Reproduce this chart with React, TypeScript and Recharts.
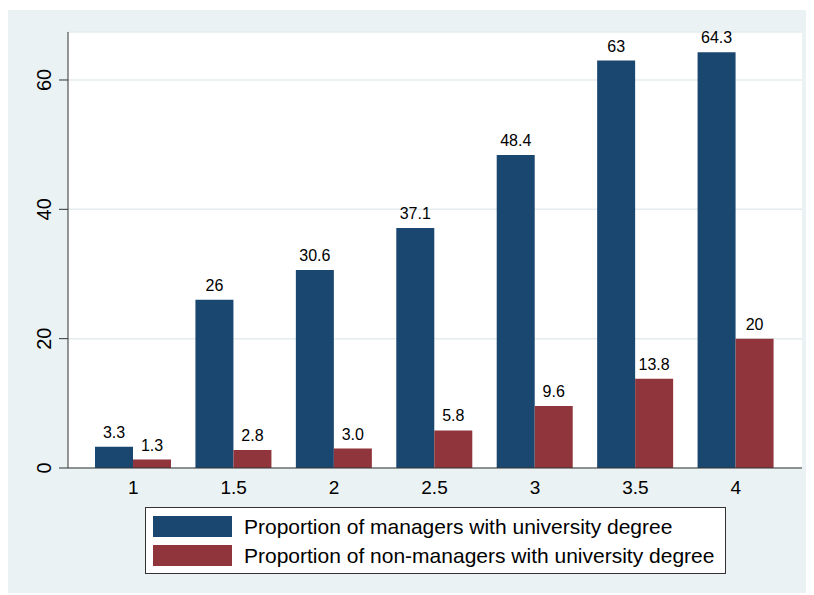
import { BarChart, Bar, XAxis, YAxis, CartesianGrid, LabelList, Legend } from "recharts";

const categories = ["1", "1.5", "2", "2.5", "3", "3.5", "4"];
const managers = [3.3, 26, 30.6, 37.1, 48.4, 63, 64.3];
const nonManagers = [1.3, 2.8, 3.0, 5.8, 9.6, 13.8, 20];
const managerLabels = ["3.3", "26", "30.6", "37.1", "48.4", "63", "64.3"];
const nonManagerLabels = ["1.3", "2.8", "3.0", "5.8", "9.6", "13.8", "20"];
const yTicks = [0, 20, 40, 60];
const seriesNames = [
  "Proportion of managers with university degree",
  "Proportion of non-managers with university degree",
];

const BLUE = "#1a476f";
const RED = "#90353b";
const PANEL = "#eaf2f3";
const FONT = "'Liberation Sans', Arial, Helvetica, sans-serif";

const data = categories.map((c, i) => ({
  cat: c,
  managers: managers[i],
  nonManagers: nonManagers[i],
  mLabel: managerLabels[i],
  nLabel: nonManagerLabels[i],
}));

function XTick({ x, y, payload }: any) {
  return (
    <text x={x} y={y + 18} textAnchor="middle" fontSize={19} fill="#000">
      {payload.value}
    </text>
  );
}

function YTick({ x, y, payload }: any) {
  const cx = x - 13;
  return (
    <text
      x={cx}
      y={y}
      transform={`rotate(-90 ${cx} ${y})`}
      textAnchor="middle"
      dominantBaseline="central"
      fontSize={20}
      fill="#000"
    >
      {payload.value}
    </text>
  );
}

function LegendBox() {
  const colors = [BLUE, RED];
  return (
    <div
      style={{
        boxSizing: "border-box",
        width: 581,
        height: 67,
        background: "#fff",
        border: "1px solid #333",
        position: "relative",
      }}
    >
      {seriesNames.map((name, i) => (
        <div
          key={name}
          style={{
            position: "absolute",
            left: 7,
            top: 8 + i * 29,
            height: 21,
            display: "flex",
            alignItems: "center",
          }}
        >
          <div style={{ width: 79, height: 21, background: colors[i] }} />
          <span
            style={{
              marginLeft: 12,
              fontSize: 21,
              lineHeight: "21px",
              color: "#000",
              whiteSpace: "nowrap",
            }}
          >
            {name}
          </span>
        </div>
      ))}
    </div>
  );
}

export default function App() {
  return (
    <div
      style={{
        marginTop: 2,
        width: 805,
        height: 583,
        background: PANEL,
        fontFamily: FONT,
      }}
    >
      <BarChart
        width={805}
        height={583}
        data={data}
        margin={{ top: 22, right: 11, left: 0, bottom: 19 }}
        barGap={0}
        style={{ fontFamily: FONT }}
      >
        <CartesianGrid
          vertical={false}
          stroke="#e4ecef"
          strokeWidth={1.5}
          fill="#fff"
          fillOpacity={1}
        />
        <XAxis
          dataKey="cat"
          height={39}
          padding={{ left: 15, right: 16 }}
          tickLine={false}
          axisLine={{ stroke: "#333" }}
          tick={<XTick />}
          interval={0}
        />
        <YAxis
          width={60}
          domain={[0, 67.42]}
          ticks={yTicks}
          tickSize={9}
          tickLine={{ stroke: "#333" }}
          axisLine={{ stroke: "#333" }}
          tick={<YTick />}
          allowDataOverflow
        />
        <Legend
          verticalAlign="bottom"
          wrapperStyle={{ left: 137, top: 497, width: 581, height: 67 }}
          content={() => <LegendBox />}
        />
        <Bar dataKey="managers" name={seriesNames[0]} fill={BLUE} barSize={38} isAnimationActive={false}>
          <LabelList dataKey="mLabel" position="top" offset={9} fontSize={16} fill="#000" />
        </Bar>
        <Bar dataKey="nonManagers" name={seriesNames[1]} fill={RED} barSize={38} isAnimationActive={false}>
          <LabelList dataKey="nLabel" position="top" offset={9} fontSize={16} fill="#000" />
        </Bar>
      </BarChart>
    </div>
  );
}
